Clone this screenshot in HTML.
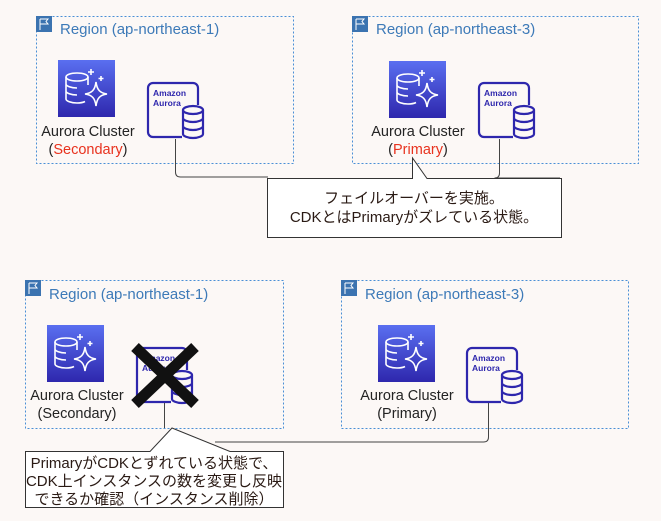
<!DOCTYPE html>
<html><head><meta charset="utf-8"><style>
html,body{margin:0;padding:0;background:#fcf8f6;}
svg{display:block;font-family:"Liberation Sans","Noto Sans CJK JP",sans-serif;}
</style></head><body>
<svg width="661" height="521" viewBox="0 0 661 521" xmlns="http://www.w3.org/2000/svg">
<defs>
<linearGradient id="g" x1="0" y1="1" x2="0" y2="0"><stop offset="0" stop-color="#2e27ad"/><stop offset="1" stop-color="#5a6ff0"/></linearGradient>
<g id="cl">
<rect width="57" height="57" fill="url(#g)"/>
<g fill="none" stroke="#fff" stroke-width="1.6">
<ellipse cx="19" cy="17" rx="11" ry="4"/>
<path d="M8 17v22c0 2 5 4 11 4 3 0 6-.5 8-1.5M8 24c0 2 5 4 11 4M8 31c0 2 5 4 11 4M30 17v8"/>
<path d="M38 22 C39 30 42 33 49 34 C42 35 39 38 38 46 C37 38 34 35 27 34 C34 33 37 30 38 22Z"/>
<path d="M33 9v6M30 12h6M43 16v5M40.5 18.5h5"/>
</g></g>
<g id="au">
<rect x="1" y="1" width="50" height="54" rx="5" fill="none" stroke="#2e27ad" stroke-width="2.2"/>
<text x="6" y="14" font-size="8.5" font-weight="bold" fill="#2e27ad">Amazon</text>
<text x="6" y="24" font-size="8.5" font-weight="bold" fill="#2e27ad">Aurora</text>
<rect x="35" y="23" width="22" height="34" fill="#fcf8f6"/>
<g fill="none" stroke="#2e27ad" stroke-width="2.2">
<ellipse cx="46" cy="28" rx="10" ry="4"/>
<path d="M36 28v24c0 2 4.5 4 10 4s10-2 10-4V28M36 36c0 2 4.5 4 10 4s10-2 10-4M36 44c0 2 4.5 4 10 4s10-2 10-4"/>
</g></g>
<g id="fl"><rect width="16" height="16" fill="#3b73b0"/><path d="M4 3v11M4 3h8l-2 2.5 2 2.5H4" fill="none" stroke="#fff" stroke-width="1"/></g>
</defs>
<g fill="none" stroke="#4a8fd6" stroke-dasharray="2,2" stroke-width="1">
<rect x="36.5" y="16.5" width="257" height="147"/>
<rect x="352.5" y="16.5" width="286" height="147"/>
<rect x="25.5" y="280.5" width="258" height="148"/>
<rect x="341.5" y="280.5" width="287" height="148"/>
</g>
<g font-size="15" fill="#3d7ab8">
<use href="#fl" x="36" y="16"/><text x="60" y="34">Region (ap-northeast-1)</text>
<use href="#fl" x="352" y="16"/><text x="376" y="34">Region (ap-northeast-3)</text>
<use href="#fl" x="25" y="280"/><text x="49" y="299">Region (ap-northeast-1)</text>
<use href="#fl" x="341" y="280"/><text x="365" y="299">Region (ap-northeast-3)</text>
</g>
<use href="#cl" x="58" y="60"/><use href="#au" x="147" y="82"/>
<use href="#cl" x="389" y="61"/><use href="#au" x="478" y="82"/>
<use href="#cl" x="47" y="325"/><use href="#au" x="136" y="347"/>
<use href="#cl" x="378" y="325"/><use href="#au" x="466" y="347"/>
<g font-size="14.5" fill="#232323" text-anchor="middle">
<text x="88" y="136">Aurora Cluster</text>
<text x="88" y="154">(<tspan fill="#e8321e">Secondary</tspan>)</text>
<text x="418" y="136">Aurora Cluster</text>
<text x="418" y="154">(<tspan fill="#e8321e">Primary</tspan>)</text>
<text x="77" y="400">Aurora Cluster</text>
<text x="77" y="418">(Secondary)</text>
<text x="407" y="400">Aurora Cluster</text>
<text x="407" y="418">(Primary)</text>
</g>
<g fill="none" stroke="#444" stroke-width="1">
<path d="M175.5 139v33q0 5 5 5H268"/>
<path d="M499.5 139v34q0 5-5 5H560"/>
<path d="M164.5 403v25"/>
<path d="M488.5 403v34q0 5-5 5H215"/>
</g>
<path d="M267.5 178.5H412.5L412.5 158L427 178.5H561.5V237.5H267.5Z" fill="#fff" stroke="#333" stroke-width="1"/>
<g font-size="15" fill="#2a1a14" text-anchor="middle">
<text x="414" y="203">フェイルオーバーを実施。</text>
<text x="414" y="222">CDKとはPrimaryがズレている状態。</text>
</g>
<path d="M25.5 451.5H150L172 428L230 451.5H283.5V507.5H25.5Z" fill="#fff" stroke="#333" stroke-width="1"/>
<g font-size="15" fill="#2a1a14" text-anchor="middle">
<text x="154" y="468">PrimaryがCDKとずれている状態で、</text>
<text x="154" y="486">CDK上インスタンスの数を変更し反映</text>
<text x="154" y="504">できるか確認（インスタンス削除）</text>
</g>
<path d="M135 347L195 404M195 347L135 404" stroke="#111" stroke-width="11"/>
</svg>
</body></html>
